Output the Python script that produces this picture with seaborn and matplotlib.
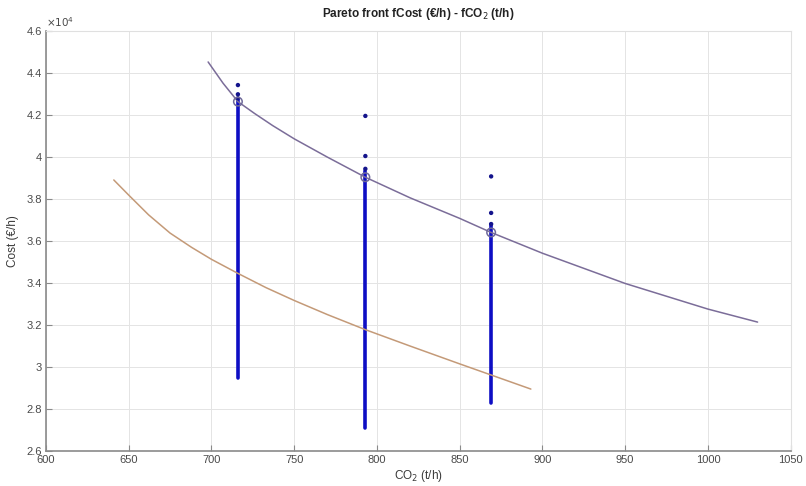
import matplotlib
matplotlib.use("Agg")
import matplotlib.pyplot as plt
import matplotlib.ticker as mticker
import pandas as pd
import seaborn as sns

# Upper Pareto front (purple)
front_co2 = [698, 707, 716, 726, 737, 750, 770, 793, 820, 850, 869, 900, 950, 1000, 1030]
front_cost = [44530, 43520, 42640, 42080, 41500, 40870, 40000, 39040, 38060, 37080,
              36410, 35420, 33980, 32760, 32140]

# Lower front (orange)
lower_co2 = [641, 650, 662, 675, 688, 700, 716, 733, 750, 770, 793, 820, 850, 869, 893]
lower_cost = [38910, 38190, 37250, 36380, 35700, 35130, 34460, 33780, 33170, 32500,
              31780, 31000, 30150, 29620, 28950]

# Solution columns at three emission levels
col_co2 = [716, 793, 869]
col_low = [29500, 27100, 28300]
col_high = [42700, 39350, 36800]

# Isolated solutions above each column
pt_co2 = [716, 716, 716, 793, 793, 793, 869, 869, 869]
pt_cost = [43430, 42990, 42800, 41960, 40050, 39440, 39080, 37340, 36810]

# Selected solutions on the front (open circles)
sel_co2 = [716, 793, 869]
sel_cost = [42640, 39040, 36410]

x_ticks = [600, 650, 700, 750, 800, 850, 900, 950, 1000, 1050]
y_ticks = [26000, 28000, 30000, 32000, 34000, 36000, 38000, 40000, 42000, 44000, 46000]

sns.set_theme(style="whitegrid")
plt.rcParams["font.family"] = ["Liberation Sans", "DejaVu Sans"]

fig = plt.figure(figsize=(8.06, 4.86), dpi=100)
ax = fig.add_axes([0.057, 0.072, 0.924, 0.864])

front = pd.DataFrame({"co2": front_co2, "cost": front_cost})
lower = pd.DataFrame({"co2": lower_co2, "cost": lower_cost})
cols = pd.DataFrame({
    "co2": [c for c in col_co2 for _ in range(2)],
    "cost": [v for lo, hi in zip(col_low, col_high) for v in (lo, hi)],
    "col": [i for i in range(len(col_co2)) for _ in range(2)],
})
pts = pd.DataFrame({"co2": pt_co2, "cost": pt_cost})
sel = pd.DataFrame({"co2": sel_co2, "cost": sel_cost})

sns.lineplot(data=cols, x="co2", y="cost", units="col", estimator=None,
             color="#0e0ec4", linewidth=2.6, solid_capstyle="round", ax=ax, zorder=3)
sns.lineplot(data=lower, x="co2", y="cost", sort=False, estimator=None,
             color="#c49a78", linewidth=1.1, ax=ax, zorder=4)
sns.lineplot(data=front, x="co2", y="cost", sort=False, estimator=None,
             color="#7b6d99", linewidth=1.1, ax=ax, zorder=4)
sns.scatterplot(data=pts, x="co2", y="cost", color="#14148c", s=10,
                edgecolor="none", ax=ax, zorder=5)
sns.scatterplot(data=sel, x="co2", y="cost", s=38, facecolor="none",
                edgecolor="#6f6a9a", linewidth=1.1, ax=ax, zorder=6)

ax.set_xlim(600, 1050)
ax.set_ylim(26000, 46000)
ax.set_xticks(x_ticks)
ax.set_yticks(y_ticks)
ax.yaxis.set_major_formatter(mticker.FuncFormatter(lambda v, p: f"{v/1e4:g}"))

ax.grid(True, color="#e4e4e4", linewidth=0.7)
ax.set_axisbelow(True)
for side in ("top", "right"):
    ax.spines[side].set_color("#e0e0e0")
    ax.spines[side].set_linewidth(0.8)
for side in ("left", "bottom"):
    ax.spines[side].set_color("#8a8a8a")
    ax.spines[side].set_linewidth(1.2)

ax.tick_params(axis="both", direction="in", length=4, width=0.8, color="#8a8a8a",
               labelsize=8, labelcolor="#4a4a4a", pad=3,
               bottom=True, left=True, top=False, right=False)

ax.set_xlabel("CO$_2$ (t/h)", fontsize=8.5, color="#3a3a3a", labelpad=2)
ax.set_ylabel("Cost (€/h)", fontsize=8.5, color="#3a3a3a", labelpad=5)
ax.set_title("Pareto front fCost (€/h) - fCO$_2$ (t/h)", fontsize=8.5,
             fontweight="bold", color="#222222", pad=10)
ax.text(0.0, 1.005, r"$\times10^4$", transform=ax.transAxes, fontsize=7.5,
        color="#4a4a4a", ha="left", va="bottom")

fig.savefig("out.png", dpi=100, facecolor="white")
